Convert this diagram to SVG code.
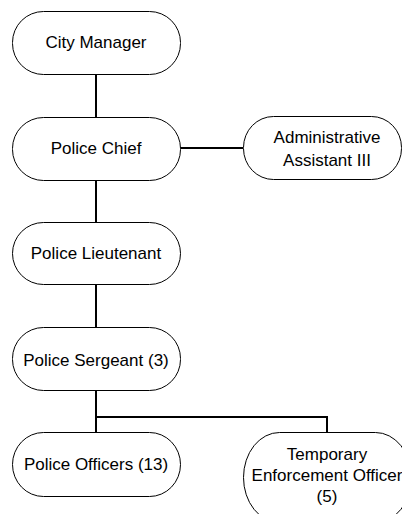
<svg xmlns="http://www.w3.org/2000/svg" width="402" height="514" viewBox="0 0 402 514">
<style>
.box{fill:#fff;stroke:#000;stroke-width:1}
.lbl{font-family:"Liberation Sans",Arial,sans-serif;font-size:17px;fill:#000;text-anchor:middle}
.conn{stroke:#000;stroke-width:2;fill:none}
</style>
<rect width="402" height="514" fill="#fff"/>
<g id="connectors">
<path class="conn" d="M96 74V117M96 180V222M96 284V327M96 390V432M180 148H243M96 417H327V432"/>
</g>
<g id="city-manager">
<rect class="box" x="12.5" y="11.5" width="168" height="63" rx="31" ry="31"/>
<text class="lbl" x="96" y="48">City Manager</text>
</g>
<g id="police-chief">
<rect class="box" x="12.5" y="117.5" width="168" height="63" rx="31" ry="31"/>
<text class="lbl" x="96" y="154">Police Chief</text>
</g>
<g id="admin-assistant">
<rect class="box" x="243.5" y="116.5" width="158" height="63" rx="30" ry="31"/>
<text class="lbl" x="327" y="143">Administrative</text>
<text class="lbl" x="327" y="166">Assistant III</text>
</g>
<g id="police-lieutenant">
<rect class="box" x="12.5" y="222.5" width="168" height="62" rx="31" ry="31"/>
<text class="lbl" x="96" y="259">Police Lieutenant</text>
</g>
<g id="police-sergeant">
<rect class="box" x="12.5" y="327.5" width="168" height="63" rx="31" ry="31"/>
<text class="lbl" x="96" y="366">Police Sergeant (3)</text>
</g>
<g id="police-officers">
<rect class="box" x="12.5" y="432.5" width="168" height="64" rx="31" ry="32"/>
<text class="lbl" x="96" y="470">Police Officers (13)</text>
</g>
<g id="temporary-enforcement">
<rect class="box" x="243.5" y="432.5" width="168" height="90" rx="36" ry="45"/>
<text class="lbl" x="327" y="460">Temporary</text>
<text class="lbl" x="327" y="481">Enforcement Officer</text>
<text class="lbl" x="327" y="502">(5)</text>
</g>
</svg>
